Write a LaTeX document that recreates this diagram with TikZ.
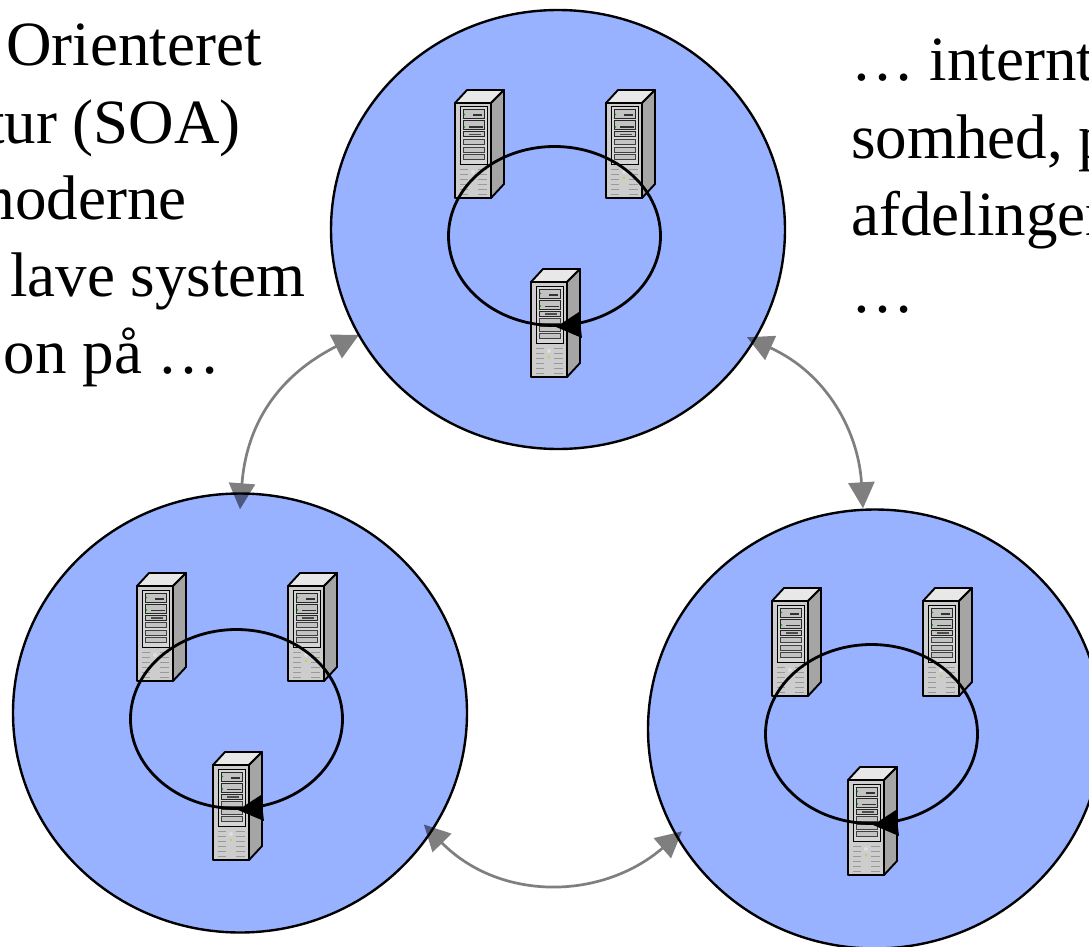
\documentclass[tikz,border=0pt]{standalone}
\usepackage{fontspec}
\setmainfont{Liberation Serif}
\usetikzlibrary{shapes.geometric,arrows.meta}
\definecolor{disc}{RGB}{153,178,255}
\definecolor{srvfront}{RGB}{205,205,205}
\definecolor{srvtop}{RGB}{232,232,232}
\definecolor{srvside}{RGB}{165,165,165}
\definecolor{srvslot}{RGB}{195,195,195}
\tikzset{
  x=1pt,y=-1pt,
  label text/.style={inner sep=0pt,font=\fontsize{63}{63}\selectfont},
  cluster/.style={ellipse,draw=black,line width=2.4pt,fill=disc,inner sep=0pt,minimum width=454pt,minimum height=439pt},
  ringshape/.style={ellipse,draw=black,line width=2.8pt,inner sep=0pt,minimum width=212pt,minimum height=179pt},
  link/.style={draw=black,line width=2.7pt,{Triangle[length=26pt,width=26pt]}-{Triangle[length=26pt,width=26pt]}},
  server/.pic={
    \draw[black,line width=1.9pt,line join=round,fill=srvtop] (0,13)--(12,0)--(49,0)--(36,13)--cycle;
    \draw[black,line width=1.9pt,line join=round,fill=srvside] (36,13)--(49,0)--(49,94)--(36,108)--cycle;
    \draw[black,line width=1.9pt,line join=round,fill=srvfront] (0,13) rectangle (36,108);
    \draw[black,line width=1pt,fill=srvslot!70!white] (5,17) rectangle (32,74);
    \foreach \ya/\yb in {20/29,31/40,42/47}{\draw[black!85,line width=1pt,fill=srvslot] (8,\ya) rectangle (29,\yb);}
    \foreach \ya/\yb in {49/54,57/62,64/69}{\draw[black!75,line width=0.8pt,fill=srvslot] (8,\ya) rectangle (29,\yb);}
    \fill[black!80] (18,24.5) rectangle (27,26.5);
    \fill[black!80] (14,36.5) rectangle (28,38);
    \fill[black!70] (14,44) rectangle (26,45.5);
    \fill[green!70!black] (9.5,24.5) circle (0.9pt) (9.5,37) circle (0.9pt);
    \foreach \yy in {79,84,...,104}{
      \draw[gray!80,line width=1pt] (5,\yy)--(13,\yy) (23,\yy)--(32,\yy);}
    \fill[gray!25] (18,82) circle (2pt);
    \fill[yellow!70!green] (18,88) circle (1.1pt);
  }
}
\begin{document}
\begin{tikzpicture}
\clip (0,0) rectangle (1089,947);
% labels
\node[label text,anchor=base east] (t1) at (262,66) {Orienteret};
\node[label text,anchor=base east] (t2) at (241,143) {tur (SOA)};
\node[label text,anchor=base east] (t3) at (187,219) {moderne};
\node[label text,anchor=base east] (t4) at (306,296) {lave system};
\node[label text,anchor=base east] (t5) at (221,373) {on på …};
\node[label text,anchor=base west] (r1) at (851,81) {… internt};
\node[label text,anchor=base west] (r2) at (851,158) {somhed, p};
\node[label text,anchor=base west] (r3) at (851,235) {afdelinger};
\node[label text,anchor=base west] (r4) at (851,312) {…};
% discs
\node[cluster] (top) at (558,229.5) {};
\node[cluster] (left) at (240,713) {};
\node[cluster] (right) at (875,729) {};
% servers and rings
\foreach \n/\dx/\dy in {top/0/0,left/-318/483,right/317/498}{
  \begin{scope}[shift={(\dx,\dy)}]
    \pic at (455,90) {server};
    \pic at (606,90) {server};
    \pic at (531,269) {server};
    \node[ringshape] (ring\n) at (554.5,236) {};
    \coordinate (tip\n) at (556,327);
    \coordinate (ba\n) at (579,312);
    \coordinate (bb\n) at (582,338);
    \fill[black] (tip\n)--(ba\n)--(bb\n)--cycle;
  \end{scope}
}
% connectors
\begin{scope}[transparency group,opacity=0.5]
\path[link] ([shift={(1,-1)}]top.208) .. controls (272,379) and (246,431) .. ([shift={(0,17)}]left.north);
\path[link] ([shift={(-9,-2)}]top.-29) .. controls (828,374) and (858.5,433) .. ([shift={(-12,0)}]right.north);
\path[link] ([shift={(-10,-5)}]left.-31) .. controls (499,901) and (601,901) .. ([shift={(7,-4)}]right.208);
\end{scope}
\end{tikzpicture}
\end{document}
